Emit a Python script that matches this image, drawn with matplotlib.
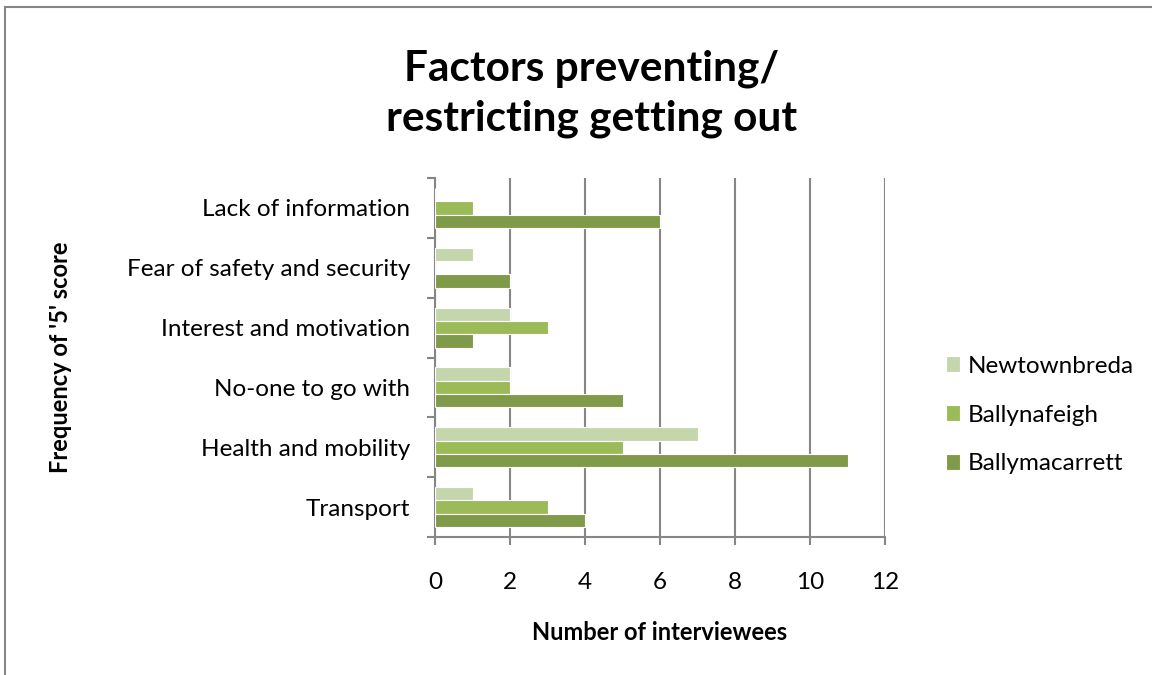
import numpy as np
import matplotlib
matplotlib.use('Agg')
import matplotlib.pyplot as plt
from matplotlib.patches import Rectangle

plt.rcParams['font.family'] = ['Lato', 'DejaVu Sans']

categories = ['Transport', 'Health and mobility', 'No-one to go with',
              'Interest and motivation', 'Fear of safety and security',
              'Lack of information']
series_names = ['Newtownbreda', 'Ballynafeigh', 'Ballymacarrett']
newtownbreda = [1, 7, 2, 2, 1, 0]
ballynafeigh = [3, 5, 2, 3, 0, 1]
ballymacarrett = [4, 11, 5, 1, 2, 6]
colors = ['#C6D6AC', '#9BBB59', '#7F9A48']

fig = plt.figure(figsize=(11.52, 6.75), dpi=100)
ax = fig.add_axes([435/1152, 1-537/675, 450/1152, 359/675])

y = np.arange(len(categories))
h = 0.222
data = [newtownbreda, ballynafeigh, ballymacarrett]
offsets = [h, 0, -h]
for vals, off, col, name in zip(data, offsets, colors, series_names):
    ax.barh(y + off, vals, height=h, color=col, edgecolor='white', linewidth=0.8,
            label=name, zorder=3)

ax.set_xlim(0, 12)
ax.set_ylim(-0.5, len(categories) - 0.5)
ax.set_xticks(np.arange(0, 13, 2))
ax.xaxis.grid(True, color='#868686', linewidth=1.5, zorder=0)
ax.set_yticks(np.arange(-0.5, len(categories), 1))
ax.set_yticklabels([])
ax.set_yticks(y, minor=True)
ax.set_yticklabels(categories, minor=True)
ax.tick_params(axis='y', which='major', length=6, width=1.5, color='#868686', direction='out')
ax.tick_params(axis='y', which='minor', length=0, pad=18, labelsize=17.5)
ax.tick_params(axis='x', length=6, width=1.5, color='#868686', direction='out', pad=19, labelsize=17.5)

for s in ['top', 'right']:
    ax.spines[s].set_visible(False)
for s in ['left', 'bottom']:
    ax.spines[s].set_color('#868686')
    ax.spines[s].set_linewidth(1.5)

fig.text(592/1152, 1-94/675, 'Factors preventing/\nrestricting getting out', ha='center', va='center',
         fontsize=30.5, fontweight='bold', linespacing=1.38)
fig.text(60/1152, 1-357/675, "Frequency of '5' score", rotation=90, ha='center', va='center',
         fontsize=17, fontweight='bold')
fig.text(660/1152, 1-632/675, 'Number of interviewees', ha='center', va='center',
         fontsize=17, fontweight='bold')

fig.legend(loc='center left', bbox_to_anchor=(924/1152, 1-415/675), frameon=False,
           fontsize=17.5, labelspacing=1.15, handlelength=0.6, handleheight=0.6,
           handletextpad=0.3)

fig.add_artist(Rectangle((5/1152, -0.1), 1.2, 1-7/675+0.1, transform=fig.transFigure,
                         fill=False, edgecolor='#868686', linewidth=1.5))

fig.savefig('out.png', dpi=100)
